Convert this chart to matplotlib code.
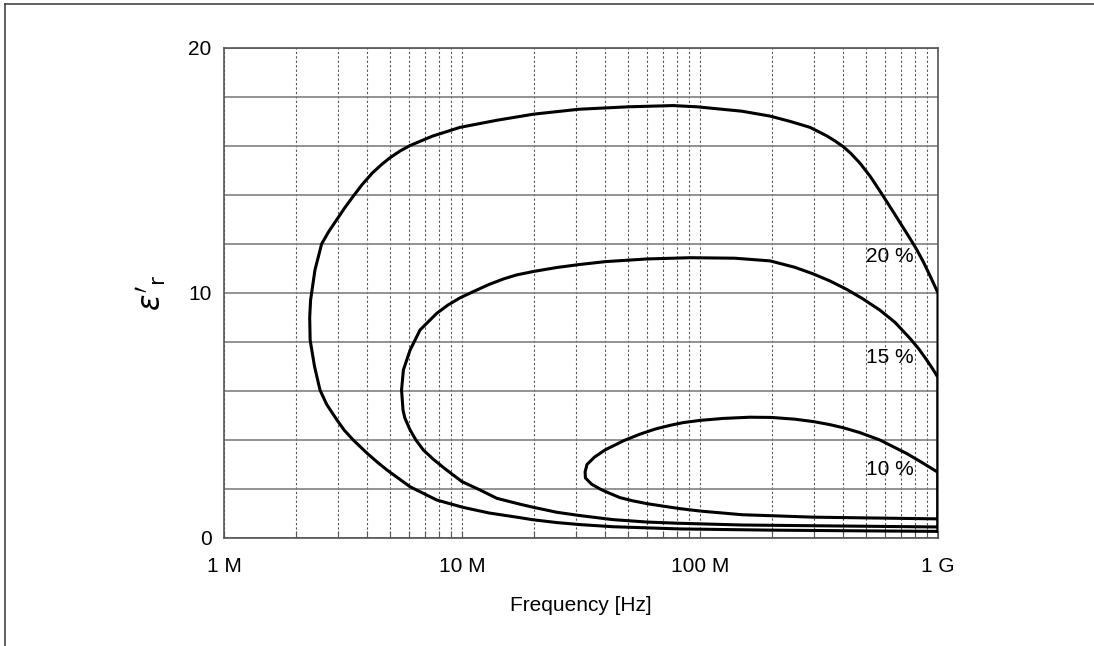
import matplotlib
matplotlib.use("Agg")
import matplotlib.pyplot as plt
from matplotlib.lines import Line2D
from matplotlib.ticker import LogLocator, FixedLocator, NullFormatter

plt.rcParams['font.family'] = ['Liberation Sans', 'DejaVu Sans']

# each loop traced from the 1 GHz bottom end, left along the lower branch,
# round the nose and right along the upper branch back to 1 GHz (MHz, eps)
freq_20 = [1000, 500, 200, 82, 43, 31, 25, 20, 17.5, 13, 10.1, 7.83, 6.05, 4.83,
           4.4, 4.0, 3.49, 3.2, 2.98, 2.7, 2.53, 2.4, 2.3, 2.29, 2.31, 2.41,
           2.57, 2.75, 2.98, 3.2, 3.49, 3.8, 4.2, 4.6, 4.98, 5.5, 6.05, 7.5, 9.8,
           14, 20, 31, 50, 77, 97, 150, 197, 240, 290, 340, 370, 400, 430, 470,
           520, 580, 640, 700, 760, 813, 870, 930, 1000]
eps_20 = [0.27, 0.29, 0.32, 0.37, 0.46, 0.55, 0.63, 0.74, 0.83, 1.02, 1.25, 1.55,
          2.09, 2.78, 3.1, 3.45, 4.0, 4.4, 4.82, 5.45, 6.04, 7.0, 8.08, 9.0,
          9.71, 10.94, 12.0, 12.5, 13.0, 13.45, 13.95, 14.42, 14.9, 15.25, 15.52,
          15.8, 16.02, 16.4, 16.76, 17.05, 17.3, 17.5, 17.6, 17.65, 17.6, 17.42,
          17.22, 17.0, 16.76, 16.42, 16.2, 15.97, 15.7, 15.3, 14.75, 14.05,
          13.4, 12.8, 12.25, 11.78, 11.25, 10.66, 10.0]

freq_15 = [1000, 300, 150, 82, 60, 43, 31, 25, 20, 17.5, 14, 11.9, 10, 8.6, 7.6,
           6.88, 6.4, 6.05, 5.75, 5.65, 5.57, 5.67, 6.05, 6.66, 7.83, 8.7, 9.8,
           11, 13, 15, 17, 20, 25, 31, 40, 60, 90.8, 140, 197, 250, 299, 350,
           413, 480, 570, 660, 762, 830, 896, 950, 1000]
eps_15 = [0.45, 0.5, 0.53, 0.6, 0.65, 0.75, 0.92, 1.05, 1.25, 1.38, 1.62, 1.96,
          2.3, 2.78, 3.2, 3.59, 4.0, 4.41, 4.9, 5.22, 6.04, 6.86, 7.67, 8.49,
          9.17, 9.5, 9.8, 10.03, 10.35, 10.58, 10.74, 10.88, 11.04, 11.16,
          11.28, 11.39, 11.44, 11.42, 11.31, 11.05, 10.78, 10.5, 10.15, 9.78,
          9.3, 8.8, 8.15, 7.72, 7.27, 6.9, 6.55]

freq_10 = [1000, 300, 150, 100, 82, 70, 60, 52, 46, 40, 38, 35, 33, 32.9, 33.5,
           36, 40, 48, 56, 65, 75, 85, 100, 125, 162, 200, 250, 300, 350, 400,
           470, 570, 650, 738, 850, 1000]
eps_10 = [0.78, 0.85, 0.95, 1.1, 1.2, 1.3, 1.4, 1.52, 1.65, 1.9, 2.0, 2.2, 2.45,
          2.7, 3.0, 3.3, 3.6, 3.98, 4.24, 4.45, 4.6, 4.71, 4.8, 4.88, 4.93,
          4.92, 4.85, 4.75, 4.63, 4.5, 4.3, 4.0, 3.72, 3.45, 3.1, 2.68]

loops = [(freq_20, eps_20, "20 %"), (freq_15, eps_15, "15 %"), (freq_10, eps_10, "10 %")]
label_freq = [628, 628, 628]
label_eps = [11.47, 7.35, 2.78]

tick_freq = [1e6, 1e7, 1e8, 1e9]
tick_text = ["1 M", "10 M", "100 M", "1 G"]

fig = plt.figure(figsize=(10.94, 6.46), dpi=100)
ax = fig.add_axes([0.2048, 0.1672, 0.6526, 0.7585])

for (f, e, name), lf, le in zip(loops, label_freq, label_eps):
    x = [v * 1e6 for v in f] + [f[0] * 1e6]
    y = list(e) + [e[0]]
    ax.plot(x, y, color="black", lw=2.2, solid_joinstyle="round", zorder=3)
    ax.text(lf * 1e6, le, name, ha="center", va="center", fontsize=15, zorder=4)

ax.set_xscale("log")
ax.set_xlim(1e6, 1e9)
ax.set_ylim(0, 20)

ax.xaxis.set_major_locator(FixedLocator(tick_freq))
ax.set_xticklabels(tick_text)
ax.xaxis.set_minor_locator(LogLocator(base=10, subs=range(2, 10)))
ax.xaxis.set_minor_formatter(NullFormatter())
ax.set_yticks([0, 10, 20])
ax.set_yticks(range(2, 20, 2), minor=True)

ax.tick_params(axis="x", which="both", direction="in", length=5, width=0.8,
               color="#555555", labelsize=15, pad=14)
ax.tick_params(axis="y", which="both", length=0, labelsize=15, pad=9)

# grid
ax.grid(axis="y", which="both", color="#808080", lw=1.2, ls="-", zorder=1)
ax.grid(axis="x", which="both", color="#555555", lw=0.8, ls=(0, (2, 2)), zorder=1)

for s in ax.spines.values():
    s.set_color("#555555")
    s.set_linewidth(1.2)

ax.set_xlabel("Frequency [Hz]", fontsize=15, labelpad=14)
ax.set_ylabel(r"$\varepsilon'_{\rm r}$", fontsize=22, labelpad=14,
              family="DejaVu Sans")

# frame lines of the original page
fig.add_artist(Line2D([0.0046, 1.0], [0.9938, 0.9938], color="#444444", lw=1.2))
fig.add_artist(Line2D([0.0046, 0.0046], [0.0, 0.9938], color="#444444", lw=1.2))

fig.savefig("out.png", dpi=100)
